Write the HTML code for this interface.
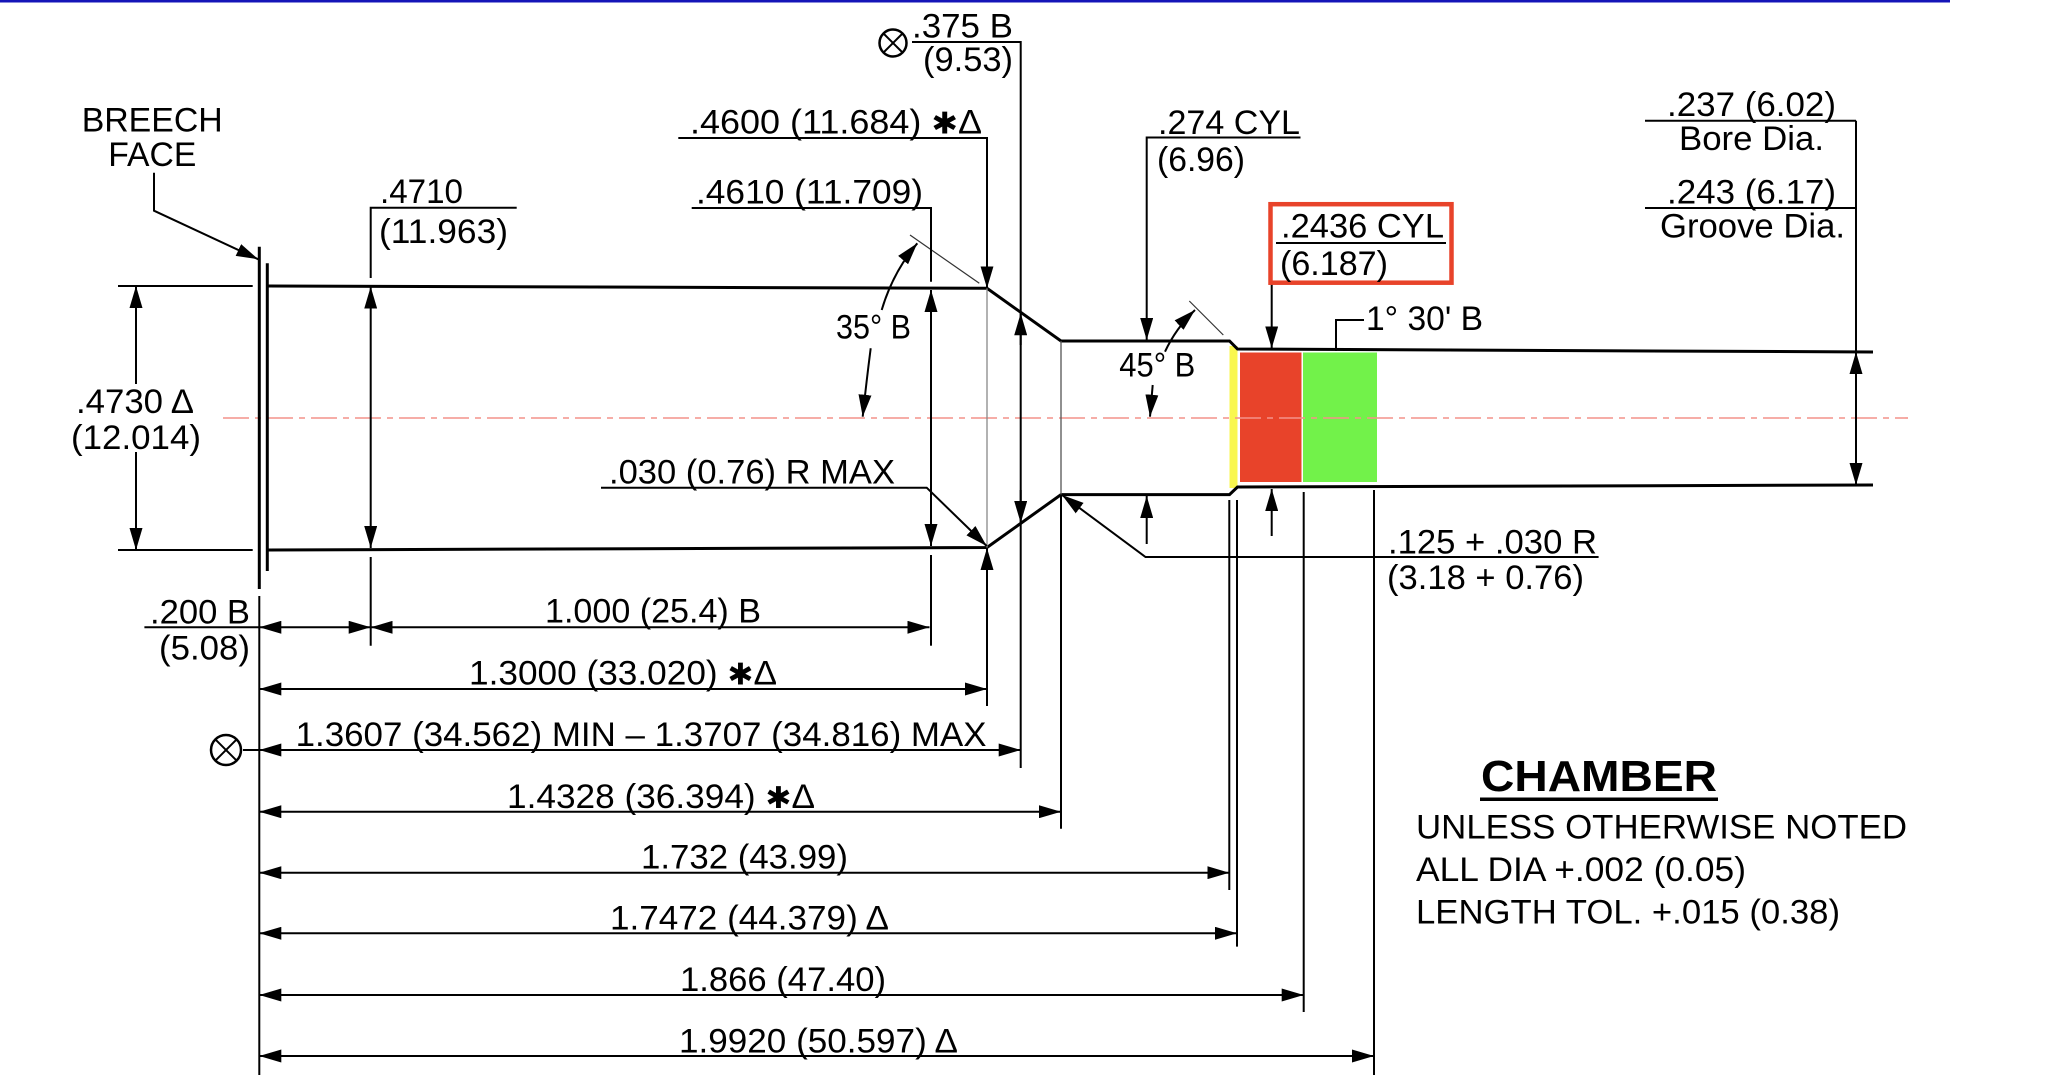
<!DOCTYPE html>
<html>
<head>
<meta charset="utf-8">
<style>
  html, body { margin: 0; padding: 0; background: #fff; }
  svg { display: block; }
  text { font-family: "Liberation Sans", "DejaVu Sans", sans-serif; font-size: 34px; fill: #000; }
  .ast { font-family: "DejaVu Sans", sans-serif; font-size: 30px; }
</style>
</head>
<body>
<svg width="2048" height="1075" viewBox="0 0 2048 1075" xmlns="http://www.w3.org/2000/svg">
  <defs>
    <marker id="a" markerUnits="userSpaceOnUse" markerWidth="23" markerHeight="13" refX="22" refY="6.5" orient="auto-start-reverse">
      <path d="M0,0 L22,6.5 L0,13 z" fill="#000"/>
    </marker>
  </defs>
  <rect x="0" y="0" width="2048" height="1075" fill="#fff"/>
  <!-- top blue rule -->
  <rect x="0" y="0" width="1950" height="2.5" fill="#1515b8"/>

  <!-- colour blocks -->
  <rect x="1229.5" y="346" width="8" height="142" fill="#f9f74d"/>
  <rect x="1240" y="352.5" width="61.5" height="129.5" fill="#e8432a"/>
  <rect x="1303" y="352.5" width="74" height="129.5" fill="#72f24a"/>

  <!-- centre line -->
  <line x1="223" y1="418" x2="1908" y2="418" stroke="#f4928a" stroke-width="1.6" stroke-dasharray="26 6 6 6"/>

  <!-- chamber outline -->
  <g fill="none" stroke="#000" stroke-width="3" stroke-linejoin="miter">
    <path d="M268,286 L987,288.3 L1061,341 L1229.5,341 L1237.5,349 L1873,352"/>
    <path d="M268,550 L987,547.5 L1061,494.6 L1229.5,494.6 L1237.5,487 L1873,485"/>
    <line x1="259.3" y1="246.7" x2="259.3" y2="589"/>
    <line x1="267.3" y1="263.3" x2="267.3" y2="571"/>
  </g>

  <!-- thin internal lines -->
  <line x1="987" y1="288.3" x2="987" y2="547.5" stroke="#888" stroke-width="1.3"/>
  <line x1="1061" y1="341" x2="1061" y2="494.6" stroke="#555" stroke-width="1.3"/>
  <line x1="910" y1="235" x2="979.3" y2="283.3" stroke="#333" stroke-width="1.2"/>
  <line x1="1189.3" y1="301" x2="1223.3" y2="335" stroke="#333" stroke-width="1.2"/>

  <g fill="none" stroke="#000" stroke-width="2">
    <!-- breech face leader -->
    <polyline points="154,172.7 154,210.7 258.3,259.3" marker-end="url(#a)"/>
    <!-- datum extension -->
    <line x1="259.3" y1="596" x2="259.3" y2="1075"/>

    <!-- .4730 dim -->
    <line x1="118" y1="286" x2="252.7" y2="286"/>
    <line x1="118" y1="550" x2="252.7" y2="550"/>
    <line x1="136" y1="286" x2="136" y2="384" marker-start="url(#a)"/>
    <line x1="136" y1="452" x2="136" y2="550" marker-end="url(#a)"/>

    <!-- .4710 -->
    <polyline points="516.7,207.7 370.7,207.7 370.7,278"/>
    <line x1="370.7" y1="286.7" x2="370.7" y2="548" marker-start="url(#a)" marker-end="url(#a)"/>
    <line x1="370.7" y1="557" x2="370.7" y2="645.7"/>

    <!-- .4600 -->
    <polyline points="678.3,138 987,138 987,288.3" marker-end="url(#a)"/>
    <line x1="987" y1="706" x2="987" y2="548" marker-end="url(#a)"/>

    <!-- .4610 -->
    <polyline points="691.7,208 931,208 931,281.7"/>
    <line x1="931" y1="290" x2="931" y2="546" marker-start="url(#a)" marker-end="url(#a)"/>
    <line x1="931" y1="555" x2="931" y2="645.7"/>

    <!-- .375 B -->
    <polyline points="912,42 1020.7,42 1020.7,768"/>
    <line x1="1020.7" y1="345" x2="1020.7" y2="313.3" marker-end="url(#a)"/>
    <line x1="1020.7" y1="490" x2="1020.7" y2="523" marker-end="url(#a)"/>

    <!-- neck start extension -->
    <line x1="1061" y1="494.6" x2="1061" y2="828.7"/>

    <!-- 35 deg arcs -->
    <path d="M881.7,310 Q893,272 917.3,243.3" marker-end="url(#a)"/>
    <path d="M870.7,348.3 Q866,385 862.7,416.7" marker-end="url(#a)"/>
    <!-- 45 deg arcs -->
    <path d="M1165,351.7 Q1176,328 1195,310" marker-end="url(#a)"/>
    <path d="M1152.7,385 L1150,416.7" marker-end="url(#a)"/>

    <!-- .274 CYL -->
    <polyline points="1300.5,137.5 1146.7,137.5 1146.7,340" marker-end="url(#a)"/>
    <line x1="1146.7" y1="544" x2="1146.7" y2="496" marker-end="url(#a)"/>

    <!-- .2436 CYL -->
    <line x1="1276" y1="243" x2="1446" y2="243"/>
    <line x1="1271.7" y1="284" x2="1271.7" y2="348.3" marker-end="url(#a)"/>
    <line x1="1271.7" y1="536" x2="1271.7" y2="489" marker-end="url(#a)"/>

    <!-- 1 30' leader -->
    <polyline points="1336,351 1336,320 1364,320"/>

    <!-- bore / groove -->
    <line x1="1645" y1="120.7" x2="1856" y2="120.7"/>
    <line x1="1645" y1="208" x2="1856" y2="208"/>
    <line x1="1856" y1="120.7" x2="1856" y2="352"/>
    <line x1="1856" y1="352" x2="1856" y2="485" marker-start="url(#a)" marker-end="url(#a)"/>

    <!-- .030 R MAX -->
    <polyline points="601,487.7 926.7,487.7 986.7,546" marker-end="url(#a)"/>

    <!-- .125 + .030 R -->
    <polyline points="1598.6,557 1145.5,557 1062,495" marker-end="url(#a)"/>

    <!-- lower extension lines -->
    <line x1="1229.3" y1="500" x2="1229.3" y2="890"/>
    <line x1="1237" y1="500" x2="1237" y2="946.6"/>
    <line x1="1303.7" y1="492" x2="1303.7" y2="1012"/>
    <line x1="1374" y1="490" x2="1374" y2="1075"/>

    <!-- lower dims -->
    <line x1="144.4" y1="627.3" x2="259.3" y2="627.3"/>
    <line x1="259.3" y1="627.3" x2="370.7" y2="627.3" marker-start="url(#a)" marker-end="url(#a)"/>
    <line x1="370.7" y1="627.3" x2="929.5" y2="627.3" marker-start="url(#a)" marker-end="url(#a)"/>
    <line x1="259.3" y1="689" x2="987" y2="689" marker-start="url(#a)" marker-end="url(#a)"/>
    <line x1="243" y1="750" x2="259.3" y2="750"/>
    <line x1="259.3" y1="750" x2="1020.7" y2="750" marker-start="url(#a)" marker-end="url(#a)"/>
    <line x1="259.3" y1="811.7" x2="1061" y2="811.7" marker-start="url(#a)" marker-end="url(#a)"/>
    <line x1="259.3" y1="872.7" x2="1229.3" y2="872.7" marker-start="url(#a)" marker-end="url(#a)"/>
    <line x1="259.3" y1="933.3" x2="1237" y2="933.3" marker-start="url(#a)" marker-end="url(#a)"/>
    <line x1="259.3" y1="995" x2="1303.7" y2="995" marker-start="url(#a)" marker-end="url(#a)"/>
    <line x1="259.3" y1="1056" x2="1374" y2="1056" marker-start="url(#a)" marker-end="url(#a)"/>

    <!-- circled-x symbols -->
    <circle cx="893" cy="43" r="13.5" stroke-width="2.5"/>
    <line x1="883.5" y1="33.5" x2="902.5" y2="52.5" stroke-width="2"/>
    <line x1="902.5" y1="33.5" x2="883.5" y2="52.5" stroke-width="2"/>
    <circle cx="226" cy="750" r="15" stroke-width="2.5"/>
    <line x1="215.4" y1="739.4" x2="236.6" y2="760.6" stroke-width="2"/>
    <line x1="236.6" y1="739.4" x2="215.4" y2="760.6" stroke-width="2"/>
  </g>

  <!-- red highlight box -->
  <rect x="1270.5" y="204.2" width="181" height="78.5" fill="none" stroke="#e8432a" stroke-width="4.5"/>

  <!-- CHAMBER underline -->
  <rect x="1480" y="797.5" width="238" height="3.5" fill="#000"/>

  <!-- texts -->
  <text x="81.7" y="131.7" textLength="141" lengthAdjust="spacingAndGlyphs">BREECH</text>
  <text x="108.3" y="166" textLength="88" lengthAdjust="spacingAndGlyphs">FACE</text>

  <text x="380" y="203" textLength="83" lengthAdjust="spacingAndGlyphs">.4710</text>
  <text x="379" y="243" textLength="129" lengthAdjust="spacingAndGlyphs">(11.963)</text>

  <text x="76" y="413" textLength="118" lengthAdjust="spacingAndGlyphs">.4730 Δ</text>
  <text x="71" y="449" textLength="130" lengthAdjust="spacingAndGlyphs">(12.014)</text>

  <text x="690" y="133.5" textLength="292" lengthAdjust="spacingAndGlyphs">.4600 (11.684) <tspan class="ast">✱</tspan>Δ</text>
  <text x="696" y="203.5" textLength="227" lengthAdjust="spacingAndGlyphs">.4610 (11.709)</text>

  <text x="912" y="37.5" textLength="101" lengthAdjust="spacingAndGlyphs">.375 B</text>
  <text x="923" y="71" textLength="90" lengthAdjust="spacingAndGlyphs">(9.53)</text>

  <text x="836" y="338.3" textLength="75" lengthAdjust="spacingAndGlyphs">35° B</text>
  <text x="1119.3" y="376.7" textLength="76" lengthAdjust="spacingAndGlyphs">45° B</text>

  <text x="1158" y="134" textLength="142" lengthAdjust="spacingAndGlyphs">.274 CYL</text>
  <text x="1157" y="171" textLength="88" lengthAdjust="spacingAndGlyphs">(6.96)</text>

  <text x="1281" y="237.5" textLength="163" lengthAdjust="spacingAndGlyphs">.2436 CYL</text>
  <text x="1280" y="275" textLength="108" lengthAdjust="spacingAndGlyphs">(6.187)</text>

  <text x="1366" y="330" textLength="117" lengthAdjust="spacingAndGlyphs">1° 30' B</text>

  <text x="1667" y="116" textLength="169" lengthAdjust="spacingAndGlyphs">.237 (6.02)</text>
  <text x="1679" y="150" textLength="145" lengthAdjust="spacingAndGlyphs">Bore Dia.</text>
  <text x="1667" y="203.5" textLength="169" lengthAdjust="spacingAndGlyphs">.243 (6.17)</text>
  <text x="1660" y="237.5" textLength="185" lengthAdjust="spacingAndGlyphs">Groove Dia.</text>

  <text x="609" y="483.3" textLength="286" lengthAdjust="spacingAndGlyphs">.030 (0.76) R MAX</text>

  <text x="1388" y="553.6" textLength="209" lengthAdjust="spacingAndGlyphs">.125 + .030 R</text>
  <text x="1387" y="589" textLength="197" lengthAdjust="spacingAndGlyphs">(3.18 + 0.76)</text>

  <text x="150" y="623.5" textLength="100" lengthAdjust="spacingAndGlyphs">.200 B</text>
  <text x="159" y="659.5" textLength="91" lengthAdjust="spacingAndGlyphs">(5.08)</text>

  <text x="545" y="622.5" textLength="216" lengthAdjust="spacingAndGlyphs">1.000 (25.4) B</text>
  <text x="469" y="684.3" textLength="308" lengthAdjust="spacingAndGlyphs">1.3000 (33.020) <tspan class="ast">✱</tspan>Δ</text>
  <text x="295.6" y="746" textLength="691" lengthAdjust="spacingAndGlyphs">1.3607 (34.562) MIN – 1.3707 (34.816) MAX</text>
  <text x="507" y="808" textLength="308" lengthAdjust="spacingAndGlyphs">1.4328 (36.394) <tspan class="ast">✱</tspan>Δ</text>
  <text x="641" y="868.5" textLength="207" lengthAdjust="spacingAndGlyphs">1.732 (43.99)</text>
  <text x="610" y="929.5" textLength="279" lengthAdjust="spacingAndGlyphs">1.7472 (44.379) Δ</text>
  <text x="680" y="990.8" textLength="206" lengthAdjust="spacingAndGlyphs">1.866 (47.40)</text>
  <text x="679" y="1052.5" textLength="279" lengthAdjust="spacingAndGlyphs">1.9920 (50.597) Δ</text>

  <text x="1481" y="791" textLength="236" lengthAdjust="spacingAndGlyphs" style="font-weight:bold;font-size:44px">CHAMBER</text>
  <text x="1416" y="838.3" textLength="491" lengthAdjust="spacingAndGlyphs">UNLESS OTHERWISE NOTED</text>
  <text x="1416" y="881" textLength="330" lengthAdjust="spacingAndGlyphs">ALL DIA +.002 (0.05)</text>
  <text x="1416" y="923.6" textLength="424" lengthAdjust="spacingAndGlyphs">LENGTH TOL. +.015 (0.38)</text>
</svg>
</body>
</html>
